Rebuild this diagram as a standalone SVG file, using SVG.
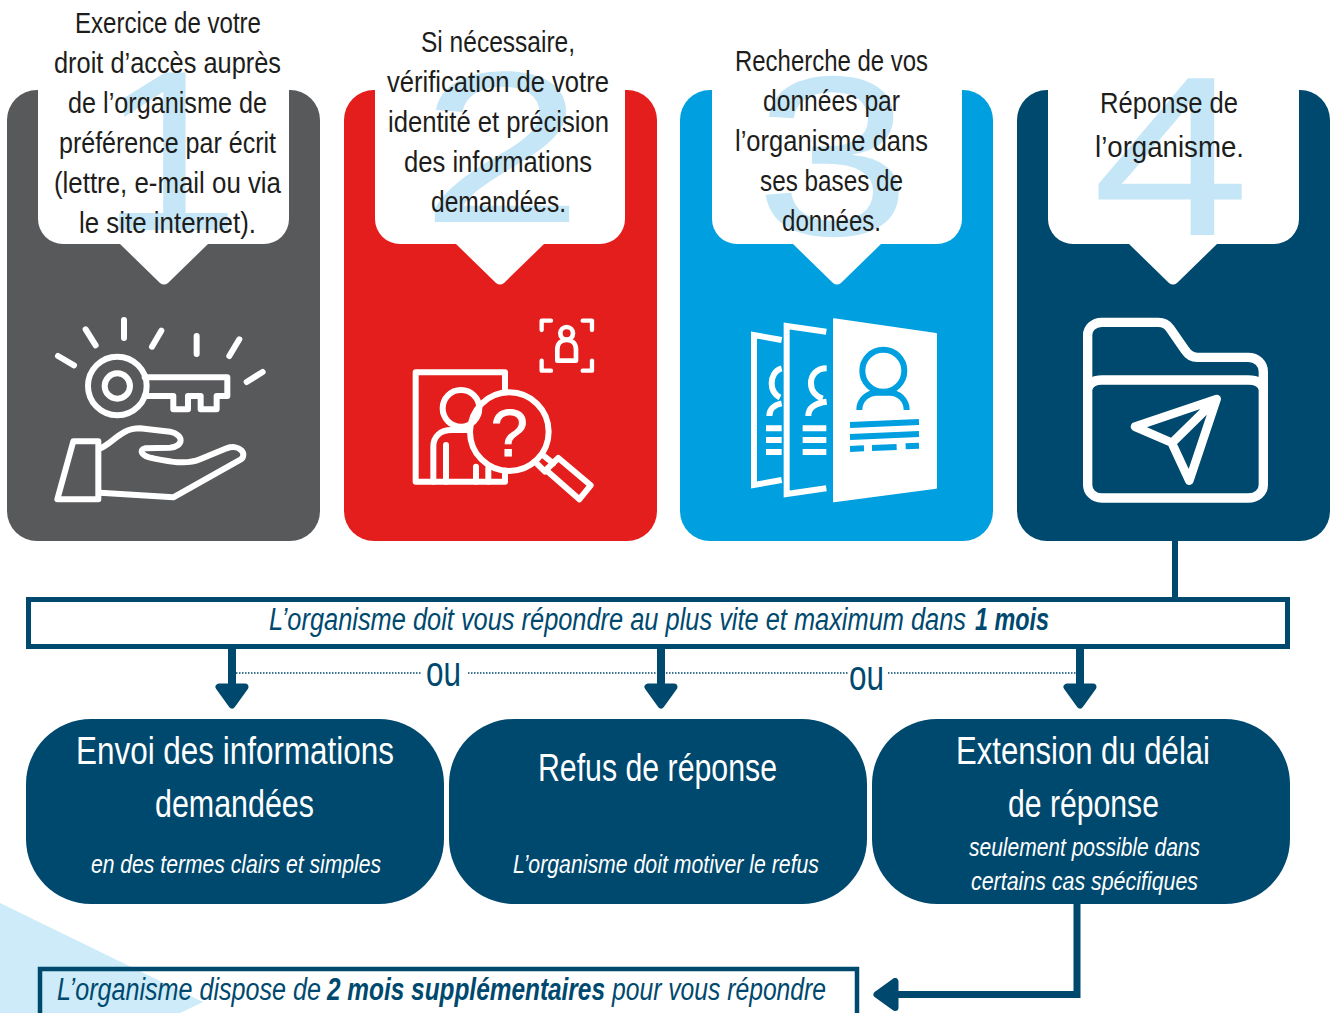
<svg xmlns="http://www.w3.org/2000/svg" width="1333" height="1013" viewBox="0 0 1333 1013">
<style>
text{font-family:"Liberation Sans Narrow","Liberation Sans",Arial,sans-serif}
.t{font-size:29px;fill:#1d1d1b}
.d{font-size:228px;fill:#c5e6f6}
.h{font-size:38px;fill:#fff}
.s{font-size:26px;fill:#fff;font-style:italic}
.b{font-size:31px;fill:#00496e;font-style:italic}
.bb{font-weight:bold}
.o{font-size:42px;fill:#00496e}
.ic{fill:none;stroke:#fff;stroke-width:18;stroke-linecap:round;stroke-linejoin:round}
.bl{fill:none;stroke:#009fe0;stroke-width:18}
.butt{stroke-linecap:butt;stroke-linejoin:miter}
.c{stroke:#00496e;fill:none}
</style>
<defs>
<marker id="ah" markerUnits="userSpaceOnUse" markerWidth="27" markerHeight="34" viewBox="0 0 27 34" refX="3" refY="17" orient="auto">
<path d="M4,4 L22,17 L4,30 Z" fill="#00496e" stroke="#00496e" stroke-width="7" stroke-linejoin="round"/>
</marker>
</defs>
<rect width="1333" height="1013" fill="#fff"/>
<polygon points="0,903 203,1002 0,1100" fill="#cdebf8"/>

<g id="step1">
<rect x="7" y="90" width="313" height="451" rx="30" fill="#58595b"/>
<path d="M38,80H289V219a25,25 0 0 1 -25,25H208L168,283q-4,3 -8,0L120,244H63a25,25 0 0 1 -25,-25Z" fill="#fff"/>
<text class="d" x="100" y="230" textLength="140" lengthAdjust="spacingAndGlyphs">1</text>
<text class="t" x="75" y="33" textLength="186" lengthAdjust="spacingAndGlyphs">Exercice de votre</text>
<text class="t" x="54" y="73" textLength="227" lengthAdjust="spacingAndGlyphs">droit d’accès auprès</text>
<text class="t" x="68" y="113" textLength="199" lengthAdjust="spacingAndGlyphs">de l’organisme de</text>
<text class="t" x="59" y="153" textLength="217" lengthAdjust="spacingAndGlyphs">préférence par écrit</text>
<text class="t" x="54" y="193" textLength="227" lengthAdjust="spacingAndGlyphs">(lettre, e-mail ou via</text>
<text class="t" x="79" y="233" textLength="177" lengthAdjust="spacingAndGlyphs">le site internet).</text>
<g transform="translate(30,300) scale(.3333)" class="ic">
<path d="M84,168L132,196M167,88L197,136M282,60V114M394,92L366,140M500,108V162M628,118L598,168M698,216L650,246"/>
<circle cx="262" cy="258" r="88"/><circle cx="262" cy="258" r="38"/>
<path d="M344,232H592V288H560V328H512V288H474V328H430V288H344" />
<path d="M130,424H205V598H82Z"/>
<path d="M210,445C250,430 270,385 330,385L420,395C465,405 460,440 420,443L345,445C325,450 335,470 370,475C420,485 470,495 510,478L590,445C630,430 655,465 630,480L430,592L210,578"/>
</g>
</g>

<g id="step2">
<rect x="344" y="90" width="313" height="451" rx="30" fill="#e41e1c"/>
<path d="M375,80H625V219a25,25 0 0 1 -25,25H544L504,283q-4,3 -8,0L456,244H400a25,25 0 0 1 -25,-25Z" fill="#fff"/>
<text class="d" x="420" y="222" textLength="164" lengthAdjust="spacingAndGlyphs" style="font-size:216px">2</text>
<text class="t" x="421" y="52" textLength="154" lengthAdjust="spacingAndGlyphs">Si nécessaire,</text>
<text class="t" x="387" y="92" textLength="222" lengthAdjust="spacingAndGlyphs">vérification de votre</text>
<text class="t" x="388" y="132" textLength="221" lengthAdjust="spacingAndGlyphs">identité et précision</text>
<text class="t" x="404" y="172" textLength="188" lengthAdjust="spacingAndGlyphs">des informations</text>
<text class="t" x="431" y="212" textLength="135" lengthAdjust="spacingAndGlyphs">demandées.</text>
<g transform="translate(390,300) scale(.3333)">
<g class="ic">
<path d="M345,268V217H77V545H345V512"/>
<circle cx="213" cy="325" r="55"/>
<path d="M130,545V440C130,410 150,390 185,390H240M168,545V435M258,545V500M295,545V505"/>
<circle cx="358" cy="395" r="118"/>
<path d="M505,474L602,556L568,598L468,510ZM462,468L490,490M440,490L465,515"/>
<path d="M455,90V62H483M578,62H606V90M455,182V212H483M578,212H606V182" stroke-width="13"/>
<circle cx="530" cy="100" r="19" stroke-width="14"/>
<path d="M502,182V148C502,128 515,120 530,120C545,120 558,128 558,148V182Z" stroke-width="14"/>
</g>
<text x="358" y="468" text-anchor="middle" font-size="200" fill="#fff" stroke="#fff" stroke-width="3" style="font-family:'Liberation Sans Narrow','Liberation Sans',Arial,sans-serif">?</text>
</g>
</g>

<g id="step3">
<rect x="680" y="90" width="313" height="451" rx="30" fill="#009fe0"/>
<path d="M712,80H962V219a25,25 0 0 1 -25,25H881L841,283q-4,3 -8,0L793,244H737a25,25 0 0 1 -25,-25Z" fill="#fff"/>
<text class="d" x="755" y="235" textLength="156" lengthAdjust="spacingAndGlyphs">3</text>
<text class="t" x="735" y="71" textLength="193" lengthAdjust="spacingAndGlyphs">Recherche de vos</text>
<text class="t" x="763" y="111" textLength="137" lengthAdjust="spacingAndGlyphs">données par</text>
<text class="t" x="735" y="151" textLength="193" lengthAdjust="spacingAndGlyphs">l’organisme dans</text>
<text class="t" x="760" y="191" textLength="143" lengthAdjust="spacingAndGlyphs">ses bases de</text>
<text class="t" x="782" y="231" textLength="99" lengthAdjust="spacingAndGlyphs">données.</text>
<g transform="translate(730,300) scale(.3333)">
<path d="M155,120L72,105V555L155,540M289,95L170,78V582L289,565" class="ic butt" stroke-width="16"/>
<path d="M155,205C135,210 125,230 125,250C125,270 135,285 150,293M155,310C130,315 118,330 118,348M290,205C260,205 243,225 243,250C243,275 260,290 278,296M290,305C250,310 235,325 235,348" class="ic butt" stroke-width="15"/>
<path d="M108,385H155M108,420H155M108,456H155M218,385H289M218,420H289M218,456H289" class="ic butt"/>
<polygon points="312,58 618,102 618,563 312,604" fill="#fff" stroke="#fff" stroke-width="6" stroke-linejoin="round"/>
<circle cx="460" cy="212" r="63" class="bl"/>
<path d="M388,330C388,298 415,278 440,278H480C505,278 530,298 530,330" class="bl"/>
<path d="M360,375L567,366M360,411L567,402M360,447L402,445M426,444L500,441M527,439L567,437" class="bl"/>
</g>
</g>

<g id="step4">
<rect x="1017" y="90" width="313" height="451" rx="30" fill="#00496e"/>
<path d="M1048,80H1299V219a25,25 0 0 1 -25,25H1217L1177,283q-4,3 -8,0L1129,244H1073a25,25 0 0 1 -25,-25Z" fill="#fff"/>
<text class="d" x="1092" y="235" textLength="158" lengthAdjust="spacingAndGlyphs">4</text>
<text class="t" x="1100" y="113" textLength="138" lengthAdjust="spacingAndGlyphs">Réponse de</text>
<text class="t" x="1095" y="157" textLength="149" lengthAdjust="spacingAndGlyphs">l’organisme.</text>
<g transform="translate(1060,300) scale(.3333)" class="ic" style="stroke-width:28">
<path d="M83,240V105C83,85 100,67 125,67H295C310,67 322,73 330,85L375,150C385,165 395,172 412,172H565C590,172 610,190 610,215V555C610,578 590,594 565,594H125C100,594 83,575 83,555Z"/>
<path d="M83,265C90,247 105,240 125,240H565C590,240 605,250 610,265"/>
<path d="M470,297L225,380L335,428L388,542ZM470,297L340,425" style="stroke-width:26"/>
</g>
</g>

<g id="delay-bar">
<rect x="28.500" y="599.500" width="1259" height="47" fill="#fff" stroke="#00496e" stroke-width="5"/>
<text class="b" x="269" y="630" textLength="697" lengthAdjust="spacingAndGlyphs">L’organisme doit vous répondre au plus vite et maximum dans</text>
<text class="b bb" x="975" y="630" textLength="74" lengthAdjust="spacingAndGlyphs">1 mois</text>
</g>

<g id="connectors">
<path class="c" stroke-width="6" d="M1175,541V598"/>
<path class="c" stroke-width="8" marker-end="url(#ah)" d="M232,649V686"/>
<path class="c" stroke-width="8" marker-end="url(#ah)" d="M661,649V686"/>
<path class="c" stroke-width="8" marker-end="url(#ah)" d="M1080,649V686"/>
<path class="c" stroke-width="1.500" stroke-dasharray="1.500 1.500" d="M236,673H421M468,673H848M888,673H1076"/>
<path class="c" stroke-width="7" marker-end="url(#ah)" d="M1077,903V994.500H896"/>
</g>

<g id="or-labels">
<text class="o" x="426" y="686" textLength="35" lengthAdjust="spacingAndGlyphs">ou</text>
<text class="o" x="849" y="690" textLength="35" lengthAdjust="spacingAndGlyphs">ou</text>
</g>

<g id="outcome1">
<rect x="26" y="719" width="418" height="185" rx="65" fill="#00496e"/>
<text class="h" x="76" y="764" textLength="318" lengthAdjust="spacingAndGlyphs">Envoi des informations</text>
<text class="h" x="155" y="817" textLength="159" lengthAdjust="spacingAndGlyphs">demandées</text>
<text class="s" x="91" y="873" textLength="290" lengthAdjust="spacingAndGlyphs">en des termes clairs et simples</text>
</g>
<g id="outcome2">
<rect x="449" y="719" width="418" height="185" rx="65" fill="#00496e"/>
<text class="h" x="538" y="781" textLength="239" lengthAdjust="spacingAndGlyphs">Refus de réponse</text>
<text class="s" x="513" y="873" textLength="306" lengthAdjust="spacingAndGlyphs">L’organisme doit motiver le refus</text>
</g>
<g id="outcome3">
<rect x="872" y="719" width="418" height="185" rx="65" fill="#00496e"/>
<text class="h" x="956" y="764" textLength="254" lengthAdjust="spacingAndGlyphs">Extension du délai</text>
<text class="h" x="1008" y="817" textLength="151" lengthAdjust="spacingAndGlyphs">de réponse</text>
<text class="s" x="969" y="856" textLength="231" lengthAdjust="spacingAndGlyphs">seulement possible dans</text>
<text class="s" x="971" y="890" textLength="227" lengthAdjust="spacingAndGlyphs">certains cas spécifiques</text>
</g>

<g id="extension-bar">
<path d="M40,1020V969H857V1020" fill="none" stroke="#00496e" stroke-width="4.500"/>
<text class="b" x="57" y="1000" textLength="264" lengthAdjust="spacingAndGlyphs">L’organisme dispose de</text>
<text class="b bb" x="327" y="1000" textLength="278" lengthAdjust="spacingAndGlyphs">2 mois supplémentaires</text>
<text class="b" x="612" y="1000" textLength="214" lengthAdjust="spacingAndGlyphs">pour vous répondre</text>
</g>
</svg>
